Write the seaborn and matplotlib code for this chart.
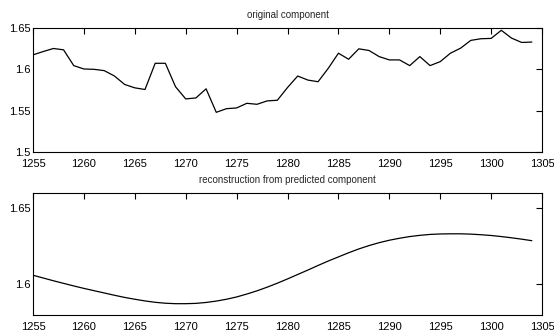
import matplotlib
matplotlib.use("Agg")
import matplotlib.pyplot as plt
import seaborn as sns
import pandas as pd

years = list(range(1255, 1305))
original = [1.6175, 1.6215, 1.6252, 1.6236, 1.6045, 1.6004, 1.6000, 1.5984, 1.5919, 1.5817,
            1.5776, 1.5756, 1.6073, 1.6073, 1.5789, 1.5642, 1.5654, 1.5764, 1.5480, 1.5524,
            1.5533, 1.5589, 1.5577, 1.5618, 1.5626, 1.5780, 1.5919, 1.5870, 1.5850, 1.6012,
            1.6195, 1.6122, 1.6248, 1.6228, 1.6154, 1.6114, 1.6114, 1.6045, 1.6154, 1.6045,
            1.6093, 1.6195, 1.6256, 1.6350, 1.6370, 1.6374, 1.6472, 1.6378, 1.6325, 1.6330]
reconstruction = [1.6060, 1.6042, 1.6024, 1.6007, 1.5990, 1.5974, 1.5959, 1.5944, 1.5929, 1.5915,
                  1.5903, 1.5892, 1.5883, 1.5877, 1.5874, 1.5874, 1.5876, 1.5882, 1.5891, 1.5903,
                  1.5918, 1.5937, 1.5958, 1.5982, 1.6008, 1.6036, 1.6065, 1.6094, 1.6124, 1.6153,
                  1.6180, 1.6207, 1.6232, 1.6254, 1.6273, 1.6289, 1.6302, 1.6313, 1.6321, 1.6327,
                  1.6330, 1.6331, 1.6331, 1.6329, 1.6325, 1.6320, 1.6313, 1.6305, 1.6296, 1.6286]
titles = ["original component", "reconstruction from predicted component"]
xticks = list(range(1255, 1306, 5))
yticks_top = [1.5, 1.55, 1.6, 1.65]
yticklabels_top = ["1.5", "1.55", "1.6", "1.65"]
yticks_bot = [1.6, 1.65]
yticklabels_bot = ["1.6", "1.65"]

sns.set_style("white")
plt.rcParams['font.family'] = ['Liberation Sans', 'DejaVu Sans']

df = pd.DataFrame({"year": years, "original": original, "reconstruction": reconstruction})

fig = plt.figure(figsize=(5.54, 3.34), dpi=100)
ax1 = fig.add_axes([0.0596, 0.5449, 0.9188, 0.3713])
ax2 = fig.add_axes([0.0596, 0.0569, 0.9188, 0.3662])

sns.lineplot(data=df, x="year", y="original", ax=ax1, color="black", linewidth=0.9)
sns.lineplot(data=df, x="year", y="reconstruction", ax=ax2, color="black", linewidth=0.9)

ax1.set_ylim(1.5, 1.65)
ax1.set_yticks(yticks_top)
ax1.set_yticklabels(yticklabels_top)
ax2.set_ylim(1.58, 1.66)
ax2.set_yticks(yticks_bot)
ax2.set_yticklabels(yticklabels_bot)

for ax, t in zip([ax1, ax2], titles):
    ax.set_xlim(1255, 1305)
    ax.set_xticks(xticks)
    ax.set_xticklabels([str(v) for v in xticks])
    ax.set_xlabel("")
    ax.set_ylabel("")
    ax.set_title(t, fontsize=7, pad=7)
    ax.tick_params(direction="in", length=4, width=0.8, labelsize=8,
                   top=True, right=True, colors="black")
    ax.tick_params(axis="x", pad=5)
    ax.tick_params(axis="y", pad=2)
    for s in ax.spines.values():
        s.set_linewidth(0.8)
        s.set_color("black")
        s.set_visible(True)

fig.savefig("out.png", dpi=100)
